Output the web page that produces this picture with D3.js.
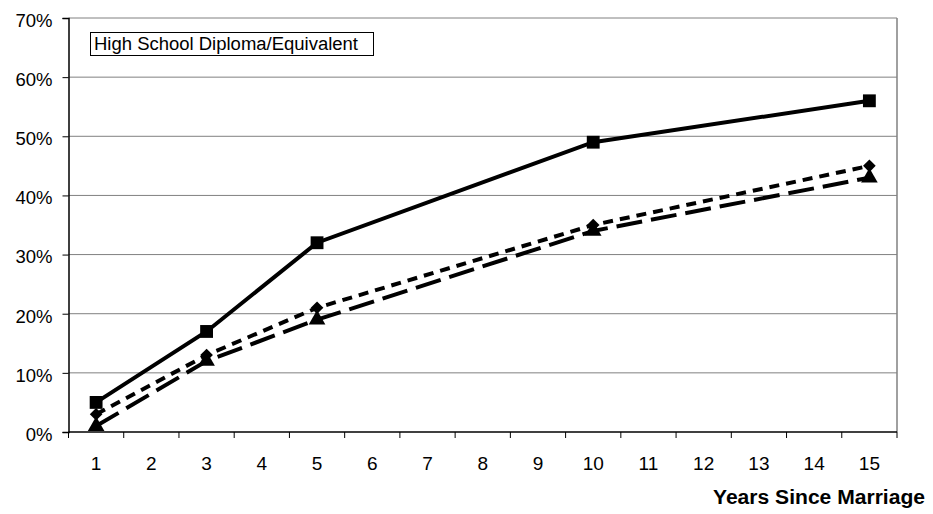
<!DOCTYPE html>
<html>
<head>
<meta charset="utf-8">
<script src="https://cdn.jsdelivr.net/npm/d3@7"></script>
<style>
  body { margin: 0; background: #fff; }
  svg { font-family: "Liberation Sans", Arial, sans-serif; }
</style>
</head>
<body>
<div id="chart"></div>
<script>
// categories along the x axis
var years = [1, 2, 3, 4, 5, 6, 7, 8, 9, 10, 11, 12, 13, 14, 15];
var yTicks = [0, 0.1, 0.2, 0.3, 0.4, 0.5, 0.6, 0.7];

// series, only some years have values
var pointYears = [1, 3, 5, 10, 15];
var squareVals = [0.05, 0.17, 0.32, 0.49, 0.56];
var diamondVals = [0.03, 0.13, 0.21, 0.35, 0.45];
var triangleVals = [0.01, 0.12, 0.19, 0.34, 0.43];

var legendText = "High School Diploma/Equivalent";
var xTitle = "Years Since Marriage";

var width = 933, height = 514;
var margin = {top: 18, right: 36, bottom: 82, left: 68.5};
var plotW = width - margin.left - margin.right;
var plotH = height - margin.top - margin.bottom;

var svg = d3.select("#chart").append("svg")
    .attr("width", width)
    .attr("height", height);

var g = svg.append("g")
    .attr("transform", "translate(" + margin.left + "," + margin.top + ")");

var x = d3.scaleBand().domain(years).range([0, plotW]);
var y = d3.scaleLinear().domain([0, 0.7]).range([plotH, 0]);

// gridlines
g.selectAll(".grid").data(yTicks.slice(1))
    .join("line")
    .attr("x1", 0).attr("x2", plotW)
    .attr("y1", d => y(d)).attr("y2", d => y(d))
    .style("stroke", "#808080")
    .style("stroke-width", 1);

// right border
g.append("line")
    .attr("x1", plotW).attr("x2", plotW)
    .attr("y1", 0).attr("y2", plotH)
    .style("stroke", "#808080")
    .style("stroke-width", 1.5);

// y axis
var yAxis = g.append("g")
    .call(d3.axisLeft(y).tickValues(yTicks).tickFormat(d3.format(".0%")).tickSize(6).tickPadding(10));
yAxis.select(".domain").attr("stroke", "#000").attr("stroke-width", 1.5);
yAxis.selectAll(".tick line").attr("stroke", "#000");
yAxis.selectAll("text")
    .style("font-size", "18.5px")
    .attr("dy", "0.45em")
    .attr("fill", "#000");

// x axis: ticks at category boundaries
var xAxis = g.append("g")
    .attr("transform", "translate(0," + plotH + ")");
xAxis.append("line")
    .attr("x1", 0).attr("x2", plotW)
    .style("stroke", "#000").style("stroke-width", 1.5);
var bounds = years.map(d => x(d)).concat([plotW]);
xAxis.selectAll(".xt").data(bounds)
    .join("line")
    .attr("x1", d => d).attr("x2", d => d)
    .attr("y1", 0).attr("y2", 6)
    .style("stroke", "#000");
xAxis.selectAll(".xl").data(years)
    .join("text")
    .attr("x", d => x(d) + x.bandwidth() / 2)
    .attr("y", 38)
    .attr("text-anchor", "middle")
    .style("font-size", "19px")
    .text(d => d);

svg.append("text")
    .attr("x", 925)
    .attr("y", 504)
    .attr("text-anchor", "end")
    .attr("textLength", 212)
    .attr("lengthAdjust", "spacingAndGlyphs")
    .style("font-size", "20px")
    .style("font-weight", "bold")
    .text(xTitle);

// lines
function cx(d) { return x(d) + x.bandwidth() / 2; }
var series = [
  {vals: diamondVals, dash: "10,7", shape: "diamond"},
  {vals: triangleVals, dash: "26,9", shape: "triangle"},
  {vals: squareVals, dash: null, shape: "square"}
];
var line = d3.line().x(d => cx(d[0])).y(d => y(d[1]));

series.forEach(function(s) {
  var pts = pointYears.map((yr, i) => [yr, s.vals[i]]);
  g.append("path")
      .datum(pts)
      .attr("d", line)
      .style("fill", "none")
      .style("stroke", "#000")
      .style("stroke-width", 4)
      .style("stroke-dasharray", s.dash);
  // diamond = square turned 45 degrees
  var sym = s.shape == "triangle" ? d3.symbolTriangle : d3.symbolSquare;
  var size = s.shape == "square" ? 165 : (s.shape == "triangle" ? 120 : 80);
  var rot = s.shape == "diamond" ? " rotate(45)" : "";
  g.selectAll(".m-" + s.shape).data(pts)
      .join("path")
      .attr("transform", d => "translate(" + cx(d[0]) + "," + y(d[1]) + ")" + rot)
      .attr("d", d3.symbol().type(sym).size(size))
      .style("fill", "#000");
});

// legend box
svg.append("rect")
    .attr("x", 90.5).attr("y", 32.5)
    .attr("width", 283).attr("height", 23)
    .style("fill", "#fff")
    .style("stroke", "#000")
    .style("stroke-width", 1);
svg.append("text")
    .attr("x", 94).attr("y", 50)
    .attr("textLength", 264)
    .attr("lengthAdjust", "spacingAndGlyphs")
    .style("font-size", "18px")
    .text(legendText);
</script>
</body>
</html>
